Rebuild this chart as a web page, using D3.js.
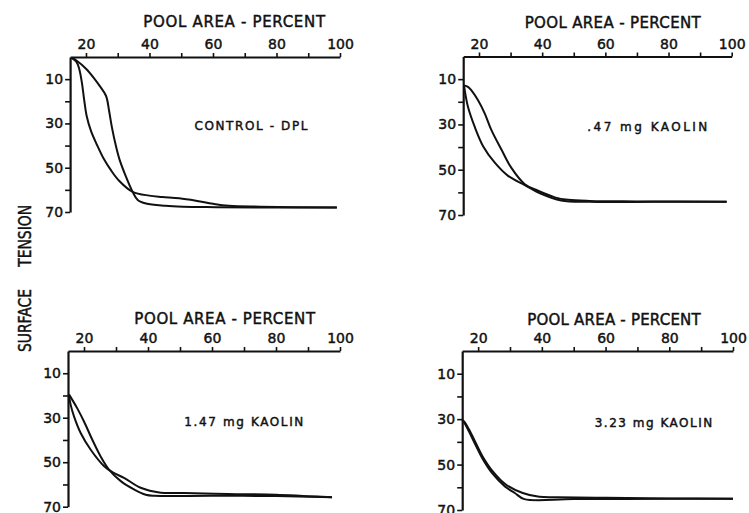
<!DOCTYPE html>
<html>
<head>
<meta charset="utf-8">
<script src="https://cdn.jsdelivr.net/npm/d3@7"></script>
<style>
  html, body { margin: 0; padding: 0; background: #fff; }
  svg { display: block; }
  text { font-family: "DejaVu Sans", "Liberation Sans", sans-serif; fill: #111; stroke: #111; stroke-width: 0.45px; }
</style>
</head>
<body>
<svg id="chart" width="749" height="513"></svg>
<script>
// ---- Axis ticks -----------------------------------------------------------
const xDomain = [15, 100];
const yDomain = [0, 70];
const xTickValues = [20, 30, 40, 50, 60, 70, 80, 90, 100];
const xTickLabels = ["20", "", "40", "", "60", "", "80", "", "100"];
const yTickValues = [10, 20, 30, 40, 50, 60, 70];
const yTickLabels = ["10", "", "30", "", "50", "", "70"];

const xAxisTitle = "POOL AREA - PERCENT";
const yAxisTitle = "SURFACE TENSION";
const panelNotes = ["CONTROL - DPL", ".47 mg  KAOLIN", "1.47 mg  KAOLIN", "3.23 mg  KAOLIN"];

// ---- Surface tension loops: [pool area %, surface tension] ----------------
const controlCurve1 = [[15.5, 0.3], [17, 1.6], [20, 5.3], [22.5, 9.5], [24.2, 12.8], [26.3, 17.5],
  [27.3, 24.5], [28.2, 32], [29.4, 40], [30.5, 46], [32.3, 53], [34.7, 60.9], [36.3, 64.6],
  [38.9, 66.2], [45, 67.2], [50.5, 67.6], [61, 67.8], [80, 68], [99, 68]];
const controlCurve2 = [[15.5, 0.5], [17, 2.2], [17.9, 5.5], [18.7, 11.5], [19.4, 19], [20.2, 26.5],
  [21.6, 33.5], [23.4, 39.5], [25.6, 46], [27.8, 51], [30.5, 56], [34.7, 60.9], [39.9, 62.6],
  [44, 63.2], [49.4, 63.8], [55, 65], [60, 66.3], [65, 67.2], [75, 67.6], [99, 68]];

const kaolin047Curve1 = [[15.3, 12.8], [16.5, 13.4], [17.6, 15], [19.7, 19.3], [21.8, 25.1],
  [23.9, 32.4], [27.1, 41.1], [30.2, 49.1], [34.5, 56.4], [38.7, 59.3], [44, 62.2], [48.2, 63.3],
  [55, 63.8], [70, 64], [98.4, 64.1]];
const kaolin047Curve2 = [[15.3, 13.2], [15.8, 17.5], [16.5, 22.2], [18.6, 30.9], [21.3, 39.6],
  [25, 46.9], [29.2, 52.7], [34.5, 56.8], [39.7, 60.7], [46, 63.6], [55, 64.2], [75, 64.2],
  [98.4, 64.1]];

const kaolin147Curve1 = [[15.3, 19.5], [17.9, 25.8], [20, 31.7], [22.6, 39.9], [25.2, 47.4],
  [27.8, 53.3], [31.5, 58.5], [35.6, 62.2], [39.3, 64.6], [42, 65.1], [60, 65.1], [80, 65.2],
  [97.5, 65.7]];
const kaolin147Curve2 = [[15.3, 20], [15.8, 24], [16.9, 29.5], [19, 37], [22.1, 44.4], [26.3, 51.8],
  [29, 54.6], [32.5, 57], [37.7, 61.5], [44, 63.7], [51.2, 63.8], [65, 64.3], [80, 64.6],
  [90, 65.3], [97.5, 65.7]];

const kaolin323Curve1 = [[15, 30.4], [15.6, 31], [17.2, 34.7], [19.3, 40.6], [21.4, 46.4],
  [24.6, 53], [28.7, 58.8], [34, 62.5], [39.2, 64.2], [45, 64.4], [60, 64.6], [80, 64.9], [100, 65]];
const kaolin323Curve2 = [[15, 30.4], [15.6, 31.5], [17.1, 35.4], [19.2, 41.4], [21.3, 47.2],
  [24.4, 53.8], [28.4, 59.6], [31.5, 62.5], [34.5, 65.2], [50, 65.2], [80, 65.1], [100, 65]];

const panelCurves = [
  [controlCurve1, controlCurve2],
  [kaolin047Curve1, kaolin047Curve2],
  [kaolin147Curve1, kaolin147Curve2],
  [kaolin323Curve1, kaolin323Curve2]
];

// ---- Panel placement (pixels) ---------------------------------------------
const layout = [
  { left: 70.1,  right: 340,   top: 57,   bottom: 212,   titleX: 234.2, titleY: 26.7, titleW: 181.7, noteX: 251,   noteY: 130,   noteW: 113 },
  { left: 463.2, right: 731.7, top: 56.5, bottom: 215,   titleX: 612.7, titleY: 28.3, titleW: 176,   noteX: 647.3, noteY: 130.5, noteW: 120 },
  { left: 68,    right: 340,   top: 351,  bottom: 506.7, titleX: 224.7, titleY: 324,  titleW: 180.7, noteX: 243.8, noteY: 426,   noteW: 119 },
  { left: 462.2, right: 733,   top: 351,  bottom: 510,   titleX: 614,   titleY: 325,  titleW: 173.4, noteX: 653.5, noteY: 427,   noteW: 117.6 }
];

const ink = "#111";
const svg = d3.select("#chart");

panelCurves.forEach((curves, i) => {
  const L = layout[i];
  const x = d3.scaleLinear().domain(xDomain).range([L.left, L.right]);
  const y = d3.scaleLinear().domain(yDomain).range([L.top, L.bottom]);
  const g = svg.append("g");

  // top x axis
  const xAxis = d3.axisTop(x)
    .tickValues(xTickValues)
    .tickFormat((d, k) => xTickLabels[k])
    .tickSizeInner(4).tickSizeOuter(0).tickPadding(4);
  const gx = g.append("g").attr("transform", `translate(0,${L.top})`).call(xAxis);

  // left y axis
  const yAxis = d3.axisLeft(y)
    .tickValues(yTickValues)
    .tickFormat((d, k) => yTickLabels[k])
    .tickSizeInner(5).tickSizeOuter(0).tickPadding(2);
  const gy = g.append("g").attr("transform", `translate(${L.left},0)`).call(yAxis);

  [gx, gy].forEach(a => {
    a.select(".domain").attr("stroke", ink).attr("stroke-width", 2.2);
    a.selectAll(".tick line").attr("stroke", ink).attr("stroke-width", 1.6);
    a.selectAll(".tick text")
      .attr("fill", ink)
      .style("font-family", "'DejaVu Sans', 'Liberation Sans', sans-serif")
      .style("font-size", "14px");
  });

  // axis title above the plot
  g.append("text")
    .attr("x", L.titleX).attr("y", L.titleY)
    .attr("text-anchor", "middle")
    .attr("textLength", L.titleW).attr("lengthAdjust", "spacing")
    .style("font-size", "15px")
    .text(xAxisTitle);

  // condition label
  g.append("text")
    .attr("x", L.noteX).attr("y", L.noteY)
    .attr("text-anchor", "middle")
    .attr("textLength", L.noteW).attr("lengthAdjust", "spacing")
    .style("font-size", "12px")
    .text(panelNotes[i]);

  const line = d3.line()
    .x(d => x(d[0])).y(d => y(d[1]))
    .curve(d3.curveCatmullRom.alpha(0.5));

  g.selectAll("path.loop").data(curves).join("path")
    .attr("class", "loop")
    .attr("d", line)
    .attr("fill", "none")
    .attr("stroke", ink)
    .attr("stroke-width", 2)
    .attr("stroke-linejoin", "round");
});

// shared y axis title
svg.append("text")
  .attr("transform", "translate(31,278.5) rotate(-90)")
  .attr("text-anchor", "middle")
  .attr("textLength", 147).attr("lengthAdjust", "spacingAndGlyphs")
  .style("font-size", "17px")
  .style("word-spacing", "22px")
  .text(yAxisTitle);
</script>
</body>
</html>
